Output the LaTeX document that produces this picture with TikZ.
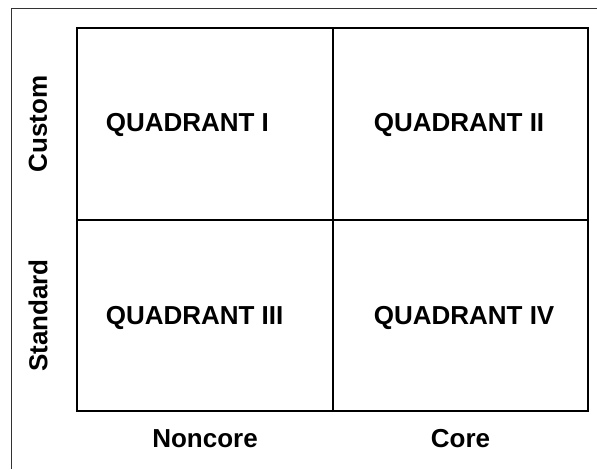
\documentclass[tikz,border=0pt]{standalone}
\usepackage{fontspec}
\setmainfont{Liberation Sans}
\usetikzlibrary{positioning}
\tikzset{cell/.style={draw, line width=2.8pt, inner sep=0pt, minimum height=192pt},
         qlabel/.style={anchor=west, inner sep=0pt, font=\fontsize{26}{30}\selectfont\bfseries},
         axlabel/.style={inner sep=0pt, font=\fontsize{26}{30}\selectfont\bfseries}}

\begin{document}
\begin{tikzpicture}[x=1pt,y=-1pt]
   \useasboundingbox (0,0) rectangle (597,469);
   % frame, only two sides show
   \draw[line width=1pt, black!80] (11,469) -- (11,8) -- (597,8);
   % the four cells
   \node[cell, minimum width=256pt] (q1) at (205,124) {};
   \node[cell, minimum width=255pt] (q2) at (460.5,124) {};
   \node[cell, minimum width=256pt, minimum height=191pt] (q3) at (205,315.5) {};
   \node[cell, minimum width=255pt, minimum height=191pt] (q4) at (460.5,315.5) {};
   % names of the cells
   \node[qlabel] (t1) at ([xshift=30pt,yshift=-1pt]q1.west) {QUADRANT I};
   \node[qlabel] (t2) at ([xshift=42pt,yshift=-1pt]q2.west) {QUADRANT II};
   \node[qlabel] (t3) at ([xshift=30pt,yshift=-2pt]q3.west) {QUADRANT III};
   \node[qlabel] (t4) at ([xshift=42pt,yshift=-2pt]q4.west) {QUADRANT IV};
   % axes
   \coordinate (left) at (38,0);
   \coordinate (below) at (0,439);
   \node[axlabel, rotate=90] (custom) at (left |- q1) {Custom};
   \node[axlabel, rotate=90] (standard) at (left |- q3) {Standard};
   \node[axlabel] (noncore) at (q3 |- below) {Noncore};
   \node[axlabel] (core) at (q4 |- below) {Core};
\end{tikzpicture}
\end{document}
